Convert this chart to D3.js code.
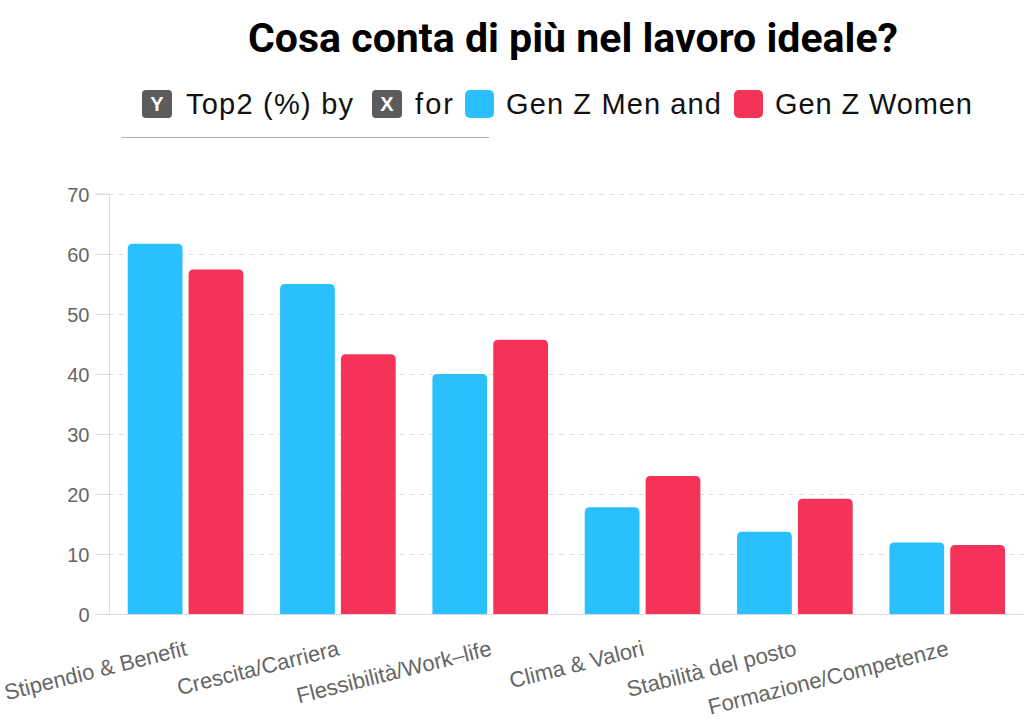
<!DOCTYPE html>
<html>
<head>
<meta charset="utf-8">
<script src="https://cdn.jsdelivr.net/npm/d3@7"></script>
<style>
  html, body { margin: 0; padding: 0; background: #fff; }
  svg { display: block; }
</style>
</head>
<body>
<svg id="chart" width="1024" height="724"></svg>
<script>
// ---- Data ----
const categories = ["Stipendio & Benefit", "Crescita/Carriera", "Flessibilità/Work–life", "Clima & Valori", "Stabilità del posto", "Formazione/Competenze"];
const seriesNames = ["Gen Z Men", "Gen Z Women"];
const menValues = [61.7, 55.0, 40.0, 17.8, 13.7, 11.9];
const womenValues = [57.4, 43.3, 45.7, 23.0, 19.2, 11.5];
const yTicks = [0, 10, 20, 30, 40, 50, 60, 70];
const titleText = "Cosa conta di più nel lavoro ideale?";

const colors = { "Gen Z Men": "#2abffd", "Gen Z Women": "#f53358" };
const FONT = "'Liberation Sans', Arial, Helvetica, sans-serif";

const svg = d3.select("#chart");
const W = 1024, H = 724;
const plot = { left: 109, right: 1023, top: 194, bottom: 614 };

// Scales
const x0 = d3.scaleBand().domain(categories).range([plot.left, plot.right]).padding(0);
const bw = x0.bandwidth();
const x1 = d3.scaleBand().domain(seriesNames).range([bw * 0.123, bw * 0.882]).paddingInner(0.1);
const y = d3.scaleLinear().domain([0, 70]).range([plot.bottom, plot.top]);

const data = categories.map((c, i) => ({
  cat: c,
  vals: [{ s: seriesNames[0], v: menValues[i] }, { s: seriesNames[1], v: womenValues[i] }]
}));

// Grid lines (dashed)
svg.append("g").selectAll("line").data(yTicks.filter(t => t > 0)).join("line")
  .attr("x1", plot.left).attr("x2", W)
  .attr("y1", d => y(d) + 0.5).attr("y2", d => y(d) + 0.5)
  .attr("stroke", "#dedede").attr("stroke-width", 1)
  .attr("stroke-dasharray", "5,5");

// Y axis via d3.axisLeft
const yAxis = d3.axisLeft(y).tickValues(yTicks).tickSize(14).tickPadding(6).tickFormat(d3.format("d"));
const gy = svg.append("g").attr("transform", `translate(${plot.left + 0.5},0)`).call(yAxis);
gy.select(".domain").attr("stroke", "#dcdcdc").attr("d", `M-14,${plot.top}H0V${plot.bottom}`);
gy.selectAll(".tick line").attr("stroke", "#dcdcdc");
gy.selectAll(".tick text").attr("fill", "#666").style("font-family", FONT).style("font-size", "20px").attr("dy", "0.36em");

// Bars with rounded top corners
function barPath(x, yTop, w, h, r) {
  r = Math.min(r, h, w / 2);
  return `M${x},${yTop + h}V${yTop + r}Q${x},${yTop} ${x + r},${yTop}H${x + w - r}Q${x + w},${yTop} ${x + w},${yTop + r}V${yTop + h}Z`;
}
const groups = svg.append("g").selectAll("g").data(data).join("g")
  .attr("transform", d => `translate(${x0(d.cat)},0)`);
groups.selectAll("path").data(d => d.vals).join("path")
  .attr("d", d => barPath(x1(d.s), y(d.v), x1.bandwidth(), y(0) - y(d.v), 5))
  .attr("fill", d => colors[d.s]);

// X axis baseline
const xAxis = d3.axisBottom(x0).tickSize(0).tickFormat("");
const gx = svg.append("g").attr("transform", `translate(0,${plot.bottom + 0.5})`).call(xAxis);
gx.select(".domain").attr("stroke", "#dcdcdc").attr("d", `M${plot.left},0H${W}`);

// X labels rotated
svg.append("g").selectAll("text").data(categories).join("text")
  .attr("transform", d => `translate(${x0(d) + bw / 2 + 3},655) rotate(-14)`)
  .attr("text-anchor", "end")
  .attr("fill", "#666")
  .style("font-family", FONT).style("font-size", "22px")
  .text(d => d);

// Title
const title = svg.append("text")
  .attr("x", 573).attr("y", 52).attr("text-anchor", "middle")
  .attr("fill", "#000").style("font-family", "Roboto, 'Liberation Sans', sans-serif")
  .style("font-weight", 700).style("font-size", "35px")
  .text(titleText);
(function fit() {
  const target = 650;
  const len = title.node().getComputedTextLength();
  if (len > 0) title.style("font-size", (35 * target / len).toFixed(2) + "px");
})();

// Legend line: [Y] Top2 (%) by [X] for [■] Gen Z Men and [■] Gen Z Women
const lg = svg.append("g");
const badgeY = 90, badgeH = 28;
function badge(x, label) {
  lg.append("rect").attr("x", x).attr("y", badgeY).attr("width", 30).attr("height", badgeH)
    .attr("rx", 4).attr("fill", "#5b5b5b");
  lg.append("text").attr("x", x + 15).attr("y", badgeY + 21).attr("text-anchor", "middle")
    .attr("fill", "#fff").style("font-family", FONT).style("font-weight", 700).style("font-size", "20px").text(label);
}
function swatch(x, color) {
  lg.append("rect").attr("x", x).attr("y", badgeY).attr("width", 29).attr("height", badgeH)
    .attr("rx", 5).attr("fill", color);
}
function ltext(x, t, w) {
  lg.append("text").attr("x", x).attr("y", 114).attr("fill", "#111")
    .style("font-family", FONT).style("font-size", "29px")
    .attr("textLength", w).attr("lengthAdjust", "spacing")
    .text(t);
}
badge(142, "Y");
ltext(186, "Top2 (%) by", 167);
badge(372, "X");
ltext(415, "for", 38);
swatch(465, colors["Gen Z Men"]);
ltext(506, "Gen Z Men and", 215);
swatch(734, colors["Gen Z Women"]);
ltext(775, "Gen Z Women", 197);

// Underline under legend
svg.append("line").attr("x1", 122).attr("x2", 489).attr("y1", 137.5).attr("y2", 137.5)
  .attr("stroke", "#b0b0b0").attr("stroke-width", 1);
</script>
</body>
</html>
